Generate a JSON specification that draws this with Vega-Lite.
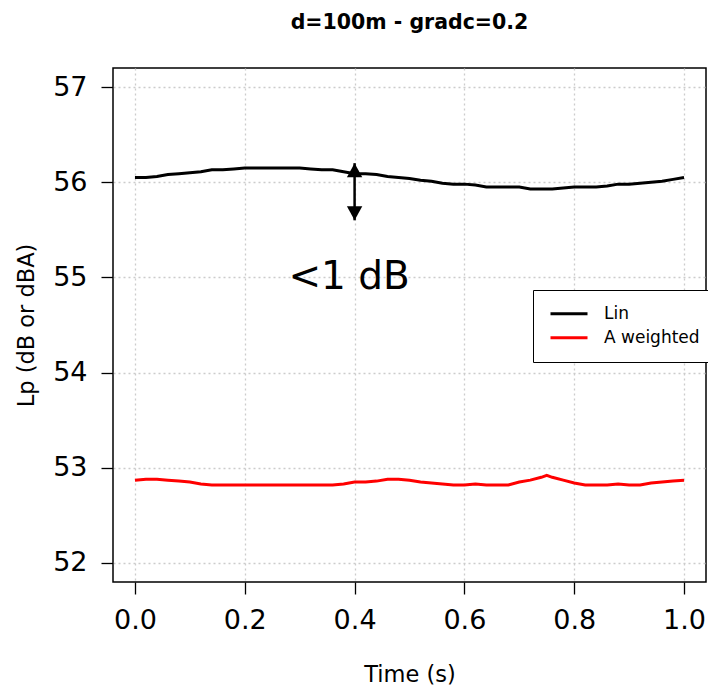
{
  "$schema": "https://vega.github.io/schema/vega-lite/v6.json",
  "width": 593,
  "height": 514,
  "autosize": {"type": "none"},
  "padding": {"left": 113, "top": 68, "right": 2, "bottom": 106},
  "background": "white",
  "title": {"text": "d=100m - gradc=0.2", "fontSize": 20.5, "fontWeight": "bold", "anchor": "middle", "frame": "group", "baseline": "alphabetic", "offset": 19, "color": "black"},
  "datasets": {
    "lines": [
      {"t": 0.00, "lp": 56.05, "series": "Lin"}, {"t": 0.02, "lp": 56.05, "series": "Lin"}, {"t": 0.04, "lp": 56.06, "series": "Lin"}, {"t": 0.06, "lp": 56.08, "series": "Lin"}, {"t": 0.08, "lp": 56.09, "series": "Lin"}, {"t": 0.10, "lp": 56.10, "series": "Lin"}, {"t": 0.12, "lp": 56.11, "series": "Lin"}, {"t": 0.14, "lp": 56.13, "series": "Lin"}, {"t": 0.16, "lp": 56.13, "series": "Lin"}, {"t": 0.18, "lp": 56.14, "series": "Lin"}, {"t": 0.20, "lp": 56.15, "series": "Lin"}, {"t": 0.22, "lp": 56.15, "series": "Lin"}, {"t": 0.24, "lp": 56.15, "series": "Lin"}, {"t": 0.26, "lp": 56.15, "series": "Lin"}, {"t": 0.28, "lp": 56.15, "series": "Lin"}, {"t": 0.30, "lp": 56.15, "series": "Lin"}, {"t": 0.32, "lp": 56.14, "series": "Lin"}, {"t": 0.34, "lp": 56.13, "series": "Lin"}, {"t": 0.36, "lp": 56.13, "series": "Lin"}, {"t": 0.38, "lp": 56.11, "series": "Lin"}, {"t": 0.40, "lp": 56.09, "series": "Lin"}, {"t": 0.42, "lp": 56.09, "series": "Lin"}, {"t": 0.44, "lp": 56.08, "series": "Lin"}, {"t": 0.46, "lp": 56.06, "series": "Lin"}, {"t": 0.48, "lp": 56.05, "series": "Lin"}, {"t": 0.50, "lp": 56.04, "series": "Lin"}, {"t": 0.52, "lp": 56.02, "series": "Lin"}, {"t": 0.54, "lp": 56.01, "series": "Lin"}, {"t": 0.56, "lp": 55.99, "series": "Lin"}, {"t": 0.58, "lp": 55.98, "series": "Lin"}, {"t": 0.60, "lp": 55.98, "series": "Lin"}, {"t": 0.62, "lp": 55.97, "series": "Lin"}, {"t": 0.64, "lp": 55.95, "series": "Lin"}, {"t": 0.66, "lp": 55.95, "series": "Lin"}, {"t": 0.68, "lp": 55.95, "series": "Lin"}, {"t": 0.70, "lp": 55.95, "series": "Lin"}, {"t": 0.72, "lp": 55.93, "series": "Lin"}, {"t": 0.74, "lp": 55.93, "series": "Lin"}, {"t": 0.76, "lp": 55.93, "series": "Lin"}, {"t": 0.78, "lp": 55.94, "series": "Lin"}, {"t": 0.80, "lp": 55.95, "series": "Lin"}, {"t": 0.82, "lp": 55.95, "series": "Lin"}, {"t": 0.84, "lp": 55.95, "series": "Lin"}, {"t": 0.86, "lp": 55.96, "series": "Lin"}, {"t": 0.88, "lp": 55.98, "series": "Lin"}, {"t": 0.90, "lp": 55.98, "series": "Lin"}, {"t": 0.92, "lp": 55.99, "series": "Lin"}, {"t": 0.94, "lp": 56.00, "series": "Lin"}, {"t": 0.96, "lp": 56.01, "series": "Lin"}, {"t": 0.98, "lp": 56.03, "series": "Lin"}, {"t": 1.00, "lp": 56.05, "series": "Lin"},
      {"t": 0.00, "lp": 52.87, "series": "A weighted"}, {"t": 0.02, "lp": 52.88, "series": "A weighted"}, {"t": 0.04, "lp": 52.88, "series": "A weighted"}, {"t": 0.06, "lp": 52.87, "series": "A weighted"}, {"t": 0.08, "lp": 52.86, "series": "A weighted"}, {"t": 0.10, "lp": 52.85, "series": "A weighted"}, {"t": 0.12, "lp": 52.83, "series": "A weighted"}, {"t": 0.14, "lp": 52.82, "series": "A weighted"}, {"t": 0.16, "lp": 52.82, "series": "A weighted"}, {"t": 0.18, "lp": 52.82, "series": "A weighted"}, {"t": 0.20, "lp": 52.82, "series": "A weighted"}, {"t": 0.22, "lp": 52.82, "series": "A weighted"}, {"t": 0.24, "lp": 52.82, "series": "A weighted"}, {"t": 0.26, "lp": 52.82, "series": "A weighted"}, {"t": 0.28, "lp": 52.82, "series": "A weighted"}, {"t": 0.30, "lp": 52.82, "series": "A weighted"}, {"t": 0.32, "lp": 52.82, "series": "A weighted"}, {"t": 0.34, "lp": 52.82, "series": "A weighted"}, {"t": 0.36, "lp": 52.82, "series": "A weighted"}, {"t": 0.38, "lp": 52.83, "series": "A weighted"}, {"t": 0.40, "lp": 52.85, "series": "A weighted"}, {"t": 0.42, "lp": 52.85, "series": "A weighted"}, {"t": 0.44, "lp": 52.86, "series": "A weighted"}, {"t": 0.46, "lp": 52.88, "series": "A weighted"}, {"t": 0.48, "lp": 52.88, "series": "A weighted"}, {"t": 0.50, "lp": 52.87, "series": "A weighted"}, {"t": 0.52, "lp": 52.85, "series": "A weighted"}, {"t": 0.54, "lp": 52.84, "series": "A weighted"}, {"t": 0.56, "lp": 52.83, "series": "A weighted"}, {"t": 0.58, "lp": 52.82, "series": "A weighted"}, {"t": 0.60, "lp": 52.82, "series": "A weighted"}, {"t": 0.62, "lp": 52.83, "series": "A weighted"}, {"t": 0.64, "lp": 52.82, "series": "A weighted"}, {"t": 0.66, "lp": 52.82, "series": "A weighted"}, {"t": 0.68, "lp": 52.82, "series": "A weighted"}, {"t": 0.70, "lp": 52.85, "series": "A weighted"}, {"t": 0.72, "lp": 52.87, "series": "A weighted"}, {"t": 0.74, "lp": 52.90, "series": "A weighted"}, {"t": 0.75, "lp": 52.92, "series": "A weighted"}, {"t": 0.76, "lp": 52.90, "series": "A weighted"}, {"t": 0.78, "lp": 52.87, "series": "A weighted"}, {"t": 0.80, "lp": 52.84, "series": "A weighted"}, {"t": 0.82, "lp": 52.82, "series": "A weighted"}, {"t": 0.84, "lp": 52.82, "series": "A weighted"}, {"t": 0.86, "lp": 52.82, "series": "A weighted"}, {"t": 0.88, "lp": 52.83, "series": "A weighted"}, {"t": 0.90, "lp": 52.82, "series": "A weighted"}, {"t": 0.92, "lp": 52.82, "series": "A weighted"}, {"t": 0.94, "lp": 52.84, "series": "A weighted"}, {"t": 0.96, "lp": 52.85, "series": "A weighted"}, {"t": 0.98, "lp": 52.86, "series": "A weighted"}, {"t": 1.00, "lp": 52.87, "series": "A weighted"}
    ],
    "arrow": [{"t": 0.4, "lp": 55.6, "lp2": 56.2}],
    "heads": [{"t": 0.4, "lp": 56.2, "end": "top"}, {"t": 0.4, "lp": 55.6, "end": "bottom"}],
    "annot": [{"t": 0.39, "lp": 55.0, "label": "<1 dB"}]
  },
  "layer": [
    {
      "data": {"name": "lines"},
      "mark": {"type": "line", "strokeWidth": 3, "interpolate": "linear"},
      "encoding": {
        "x": {"field": "t", "type": "quantitative", "scale": {"domain": [-0.04, 1.04], "nice": false, "zero": false}, "axis": {"title": "Time (s)", "values": [0, 0.2, 0.4, 0.6, 0.8, 1.0], "format": ".1f"}},
        "y": {"field": "lp", "type": "quantitative", "scale": {"domain": [51.8, 57.2], "nice": false, "zero": false}, "axis": {"title": "Lp (dB or dBA)", "values": [52, 53, 54, 55, 56, 57], "format": "d"}},
        "color": {"field": "series", "type": "nominal", "scale": {"domain": ["Lin", "A weighted"], "range": ["#000000", "#ff0000"]},
          "legend": {"title": null, "orient": "none", "legendX": 420, "legendY": 222, "symbolType": "stroke", "symbolSize": 1369, "symbolStrokeWidth": 3, "clipHeight": 23.4, "padding": 12, "labelFontSize": 17, "labelOffset": 15, "symbolOffset": 4, "strokeColor": "black", "fillColor": "white", "rowPadding": 0, "labelColor": "black"}}
      }
    },
    {
      "data": {"name": "arrow"},
      "mark": {"type": "rule", "strokeWidth": 2.5, "color": "black"},
      "encoding": {
        "x": {"field": "t", "type": "quantitative"},
        "y": {"field": "lp", "type": "quantitative"},
        "y2": {"field": "lp2"}
      }
    },
    {
      "data": {"name": "heads"},
      "mark": {"type": "point", "filled": true, "opacity": 1, "color": "black", "size": 784},
      "encoding": {
        "x": {"field": "t", "type": "quantitative"},
        "y": {"field": "lp", "type": "quantitative"},
        "shape": {"field": "end", "type": "nominal", "scale": {"domain": ["top", "bottom"], "range": ["M0,0L0.55,1L-0.55,1Z", "M0,0L0.55,-1L-0.55,-1Z"]}, "legend": null}
      }
    },
    {
      "data": {"name": "annot"},
      "mark": {"type": "text", "fontSize": 39, "align": "center", "baseline": "middle", "color": "black"},
      "encoding": {
        "x": {"field": "t", "type": "quantitative"},
        "y": {"field": "lp", "type": "quantitative"},
        "text": {"field": "label"}
      }
    }
  ],
  "config": {
    "font": "DejaVu Sans",
    "view": {"stroke": "black", "strokeWidth": 1.5},
    "axis": {"domain": false, "grid": true, "gridColor": "#cccccc", "gridDash": [2, 3], "gridWidth": 1.3, "tickColor": "black", "tickWidth": 1.3, "tickSize": 12, "labelColor": "black", "labelFontSize": 27, "titleColor": "black", "titleFontWeight": "normal", "titleFontSize": 22.5, "labelFont": "DejaVu Sans", "titleFont": "DejaVu Sans"},
    "axisX": {"labelPadding": 13, "titleY": 99, "titleBaseline": "alphabetic", "labelFlush": false},
    "axisY": {"labelPadding": 14, "titleX": -80, "titleBaseline": "alphabetic", "labelFlush": false}
  }
}
